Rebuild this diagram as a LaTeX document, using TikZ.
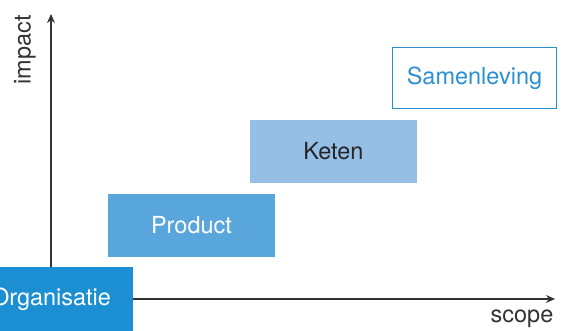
\documentclass[tikz,border=0pt]{standalone}
\usepackage{fontspec}
\setmainfont{TeX Gyre Heros}
\usetikzlibrary{arrows.meta}
\definecolor{orgblue}{HTML}{1B8FD2}
\definecolor{prodblue}{HTML}{58A6DC}
\definecolor{ketenblue}{HTML}{96BFE6}
\definecolor{samblue}{HTML}{2B8FD0}
\definecolor{axisgray}{HTML}{333333}
\tikzset{
  box/.style={rectangle, inner sep=0pt, font=\fontsize{23.5}{26}\selectfont},
  axisline/.style={draw=axisgray, line width=1.2pt, -{Stealth[length=9pt,width=8pt]}},
  axlabel/.style={font=\fontsize{23.5}{26}\selectfont, text=axisgray, inner sep=0pt}
}
\begin{document}
\begin{tikzpicture}[x=1pt,y=-1pt]
\useasboundingbox (0,0) rectangle (562,331);
\clip (0,0) rectangle (562,331);
\coordinate (origin) at (51,299);
\coordinate (ytip) at (51,14);
\coordinate (xtip) at (555,299);
\draw[axisline] (origin) -- (ytip);
\draw[axisline] (origin) -- (xtip);
\node[box, fill=orgblue, text=white, minimum width=164pt, minimum height=64pt] (org) at (51,299) {Organisatie};
\node[box, fill=prodblue, text=white, minimum width=167pt, minimum height=63pt] (prod) at (191.5,225.5) {Product};
\node[box, fill=ketenblue, text=black!85, minimum width=167pt, minimum height=63pt] (keten) at (333.5,151.5) {Keten};
\node[box, draw=samblue, line width=1.3pt, text=samblue, minimum width=164pt, minimum height=61pt] (sam) at (474.5,78) {Samenleving};
\node[axlabel, rotate=90] (impact) at (25,50) {impact};
\node[axlabel] (scope) at (522,319) {scope};
\end{tikzpicture}
\end{document}
